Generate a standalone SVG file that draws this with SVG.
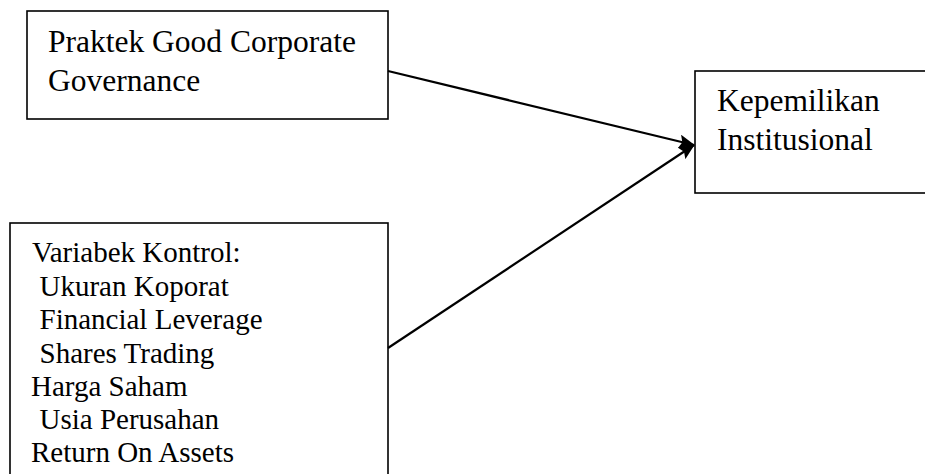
<svg xmlns="http://www.w3.org/2000/svg" width="925" height="474" viewBox="0 0 925 474">
<style>
.box{fill:#fff;stroke:#000;stroke-width:1.6}
.t{font-family:"Liberation Serif","Times New Roman",serif;fill:#000}
.big{font-size:31.5px}
.small{font-size:29px}
.conn{stroke:#000;stroke-width:2.2;fill:none}
</style>
<defs>
<marker id="arr" markerUnits="userSpaceOnUse" markerWidth="16" markerHeight="14" refX="15" refY="7" orient="auto" viewBox="0 0 16 14">
<path d="M0,0 L16,7 L0,14 L3,7 z" fill="#000"/>
</marker>
</defs>
<rect width="925" height="474" fill="#fff"/>
<g id="node-gcg">
<rect class="box" x="27" y="11" width="361" height="108"/>
<text class="t big" x="48" y="52">Praktek Good Corporate</text>
<text class="t big" x="48" y="91">Governance</text>
</g>
<g id="node-kontrol">
<rect class="box" x="10" y="223" width="378" height="260"/>
<text class="t small" x="32" y="262">Variabek Kontrol:</text>
<text class="t small" x="39.5" y="295.5">Ukuran Koporat</text>
<text class="t small" x="39.5" y="329">Financial Leverage</text>
<text class="t small" x="39.5" y="362.5">Shares Trading</text>
<text class="t small" x="31" y="396">Harga Saham</text>
<text class="t small" x="39.5" y="429">Usia Perusahan</text>
<text class="t small" x="31" y="462">Return On Assets</text>
</g>
<g id="node-kepemilikan">
<rect class="box" x="695" y="71" width="240" height="122"/>
<text class="t big" x="717" y="111">Kepemilikan</text>
<text class="t big" x="717" y="150">Institusional</text>
</g>
<g id="connectors">
<line class="conn" x1="388" y1="71" x2="694" y2="145" marker-end="url(#arr)"/>
<line class="conn" x1="388" y1="348" x2="694" y2="145" marker-end="url(#arr)"/>
</g>
</svg>
